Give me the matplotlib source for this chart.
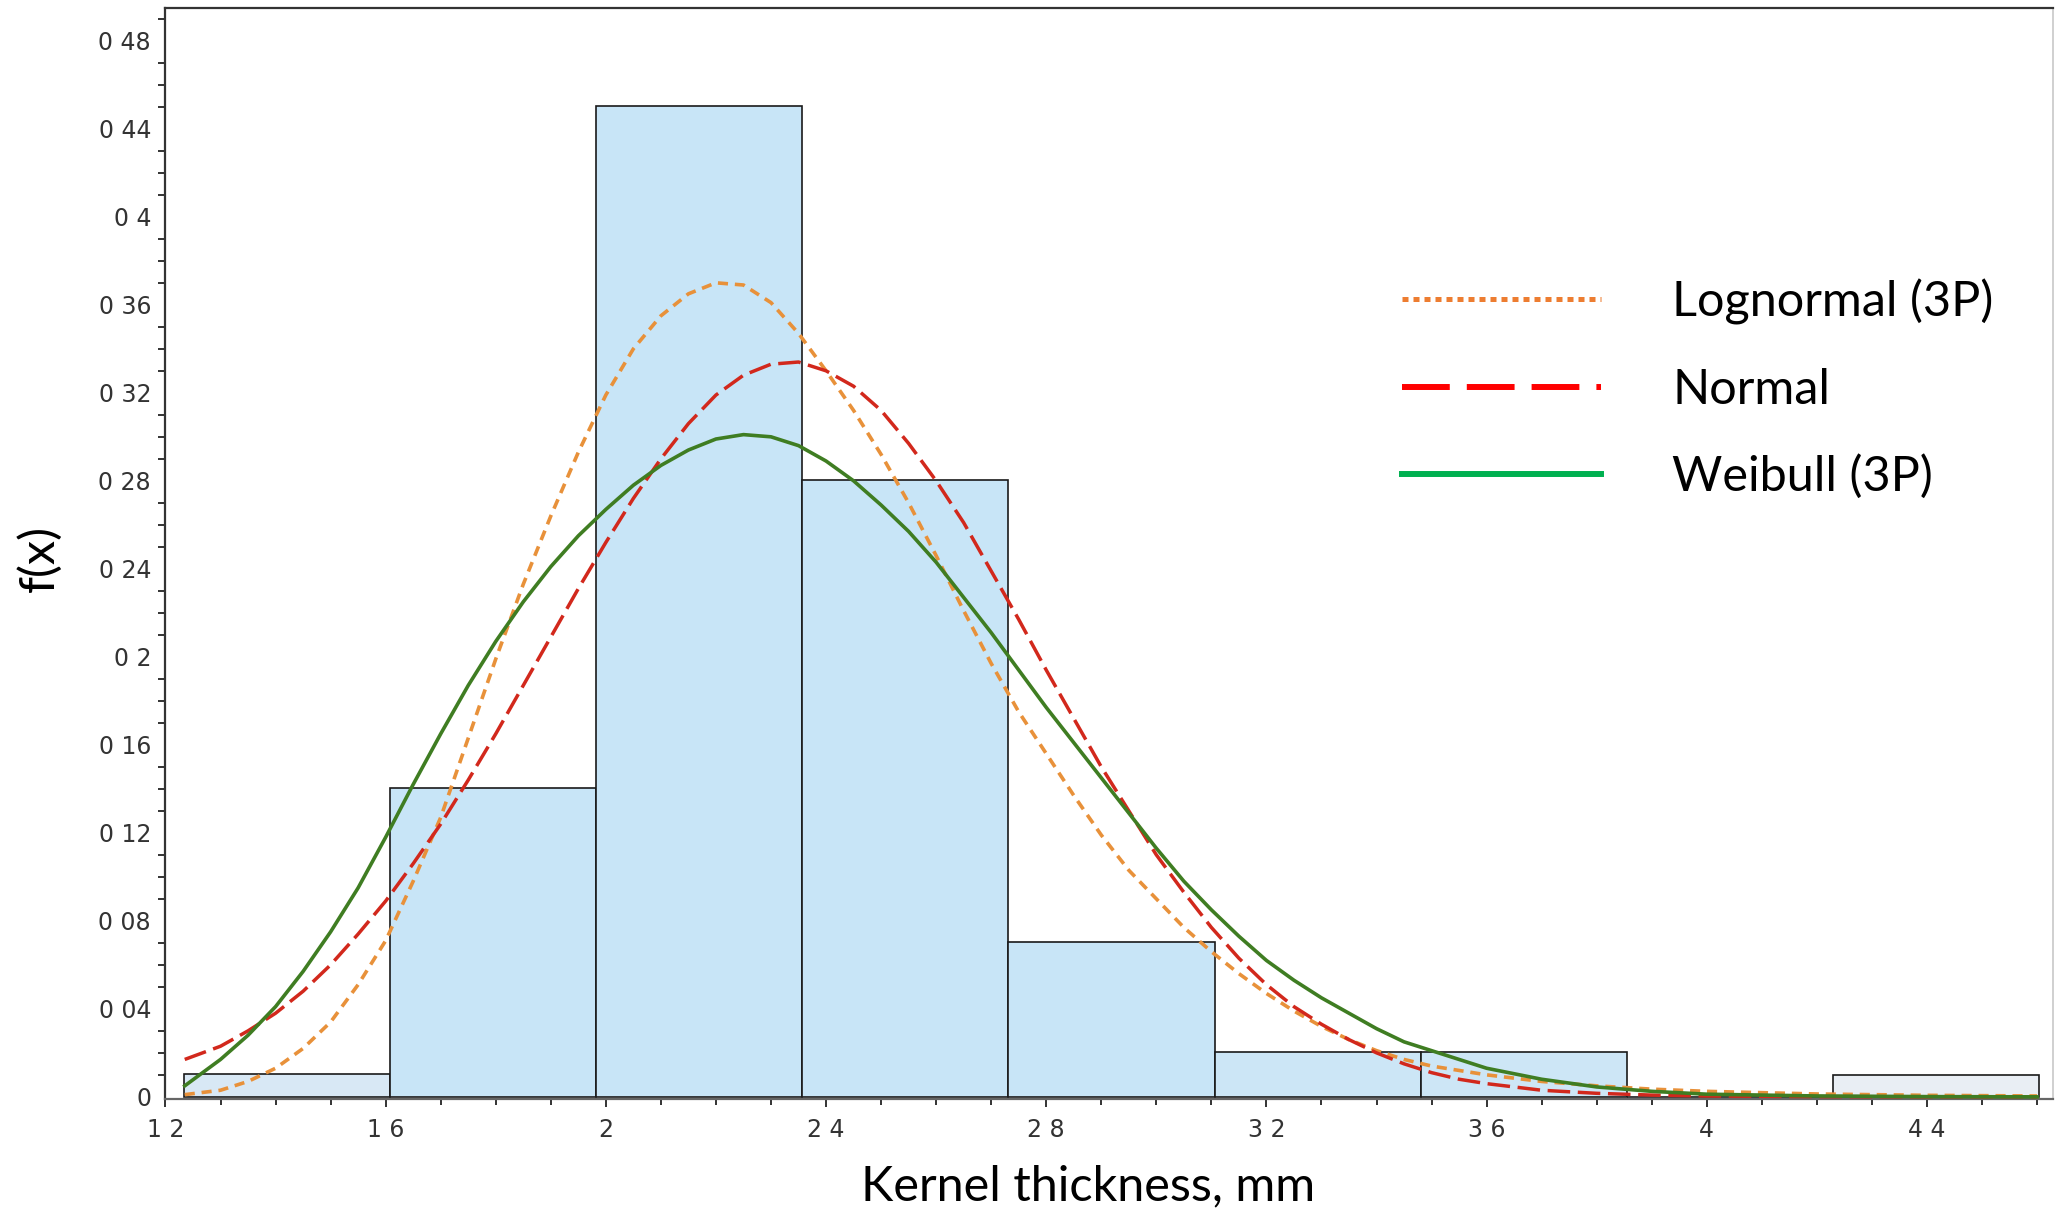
import matplotlib
matplotlib.use("Agg")
import matplotlib.pyplot as plt
from matplotlib.lines import Line2D
from matplotlib.ticker import MultipleLocator, FixedLocator

# histogram of relative frequencies (bin edges in mm)
bin_edges = [1.233, 1.608, 1.982, 2.357, 2.731, 3.106, 3.480, 3.855, 4.229, 4.604]
bin_freq = [0.0105, 0.1405, 0.4505, 0.2802, 0.0706, 0.0203, 0.0203, 0.0, 0.0101]
bin_colors = ["#d8e8f5", "#c8e5f7", "#c8e5f7", "#c8e5f7", "#c8e5f7",
              "#cce6f6", "#cde6f6", "#e9eef4", "#e9eef4"]

# fitted curves
thickness_mm = [1.235, 1.30, 1.35, 1.40, 1.45, 1.50, 1.55, 1.60, 1.65, 1.70,
                1.75, 1.80, 1.85, 1.90, 1.95, 2.00, 2.05, 2.10, 2.15, 2.20,
                2.25, 2.30, 2.35, 2.40, 2.45, 2.50, 2.55, 2.60, 2.65, 2.70,
                2.75, 2.80, 2.85, 2.90, 2.95, 3.00, 3.05, 3.10, 3.15, 3.20,
                3.25, 3.30, 3.35, 3.40, 3.45, 3.50, 3.55, 3.60, 3.70, 3.80,
                3.90, 4.00, 4.20, 4.40, 4.60]
lognormal_3p = [0.001, 0.003, 0.007, 0.013, 0.022, 0.034, 0.051, 0.071, 0.098, 0.127,
                0.163, 0.199, 0.233, 0.264, 0.293, 0.319, 0.340, 0.355, 0.365, 0.370,
                0.369, 0.361, 0.347, 0.330, 0.312, 0.292, 0.270, 0.246, 0.221, 0.197,
                0.175, 0.156, 0.137, 0.119, 0.103, 0.090, 0.077, 0.066, 0.056, 0.047,
                0.039, 0.032, 0.026, 0.021, 0.017, 0.014, 0.012, 0.010, 0.007, 0.005,
                0.0035, 0.0025, 0.0013, 0.0007, 0.0004]
normal = [0.017, 0.023, 0.030, 0.038, 0.048, 0.060, 0.074, 0.089, 0.106, 0.124,
          0.144, 0.165, 0.187, 0.209, 0.231, 0.252, 0.272, 0.290, 0.306, 0.319,
          0.328, 0.333, 0.334, 0.330, 0.323, 0.312, 0.297, 0.280, 0.261, 0.239,
          0.217, 0.194, 0.172, 0.150, 0.130, 0.110, 0.093, 0.077, 0.063, 0.051,
          0.041, 0.033, 0.026, 0.020, 0.015, 0.011, 0.008, 0.006, 0.003, 0.0016,
          0.0008, 0.0004, 0.0001, 0.0, 0.0]
weibull_3p = [0.005, 0.017, 0.028, 0.041, 0.057, 0.075, 0.095, 0.118, 0.142, 0.165,
              0.187, 0.207, 0.225, 0.241, 0.255, 0.267, 0.278, 0.287, 0.294, 0.299,
              0.301, 0.300, 0.296, 0.289, 0.280, 0.269, 0.257, 0.243, 0.227, 0.211,
              0.194, 0.177, 0.161, 0.145, 0.129, 0.113, 0.098, 0.085, 0.073, 0.062,
              0.053, 0.045, 0.038, 0.031, 0.025, 0.021, 0.017, 0.013, 0.008, 0.0045,
              0.0025, 0.0012, 0.0004, 0.0001, 0.0]

y_ticks = [0.0, 0.04, 0.08, 0.12, 0.16, 0.2, 0.24, 0.28, 0.32, 0.36, 0.4, 0.44, 0.48]
y_labels = ["0", "0 04", "0 08", "0 12", "0 16", "0 2", "0 24", "0 28", "0 32",
            "0 36", "0 4", "0 44", "0 48"]
x_ticks = [1.2, 1.6, 2.0, 2.4, 2.8, 3.2, 3.6, 4.0, 4.4]
x_labels = ["1 2", "1 6", "2", "2 4", "2 8", "3 2", "3 6", "4", "4 4"]

TICK_FONT = ["Liberation Sans Narrow", "DejaVu Sans"]
TEXT_FONT = ["Lato", "DejaVu Sans"]

fig = plt.figure(figsize=(20.59, 12.12), dpi=100)
ax = fig.add_axes([0.0801, 0.0932, 0.917, 0.900])

# --- histogram ---
lefts = bin_edges[:-1]
widths = [b - a for a, b in zip(bin_edges[:-1], bin_edges[1:])]
ax.bar(lefts, bin_freq, width=widths, align="edge", color=bin_colors,
       edgecolor="#1a1a1a", linewidth=1.2, zorder=1)

# --- fitted curves ---
ax.plot(thickness_mm, lognormal_3p, color="#e8913a", lw=2.6,
        dashes=(2.8, 1.9), zorder=3)
ax.plot(thickness_mm, normal, color="#d2281c", lw=2.5,
        dashes=(6.5, 2.2), zorder=3)
ax.plot(thickness_mm, weibull_3p, color="#3f7d22", lw=2.6, zorder=4)

ax.set_xlim(1.199, 4.629)
ax.set_ylim(-0.001, 0.4948)

# ticks
ax.yaxis.set_major_locator(FixedLocator(y_ticks))
ax.set_yticklabels(y_labels)
ax.yaxis.set_minor_locator(MultipleLocator(0.01))
ax.xaxis.set_major_locator(FixedLocator(x_ticks))
ax.set_xticklabels(x_labels)
ax.xaxis.set_minor_locator(MultipleLocator(0.1))

ax.tick_params(axis="y", which="major", length=0, pad=10, labelsize=17,
               labelcolor="#333333")
ax.tick_params(axis="y", which="minor", length=5, width=1.4, color="#333333",
               direction="out")
ax.tick_params(axis="x", which="major", length=6, width=1.4, pad=8,
               labelsize=17, labelcolor="#333333", color="#333333", direction="out")
ax.tick_params(axis="x", which="minor", length=4.5, width=1.4, color="#333333",
               direction="out")
for lab in ax.get_xticklabels() + ax.get_yticklabels():
    lab.set_family(TICK_FONT)

for side in ["left", "top"]:
    ax.spines[side].set_color("#333333")
    ax.spines[side].set_linewidth(1.6)
ax.spines["bottom"].set_color("#666666")
ax.spines["bottom"].set_linewidth(1.6)
ax.spines["right"].set_color("#c8c8c8")
ax.spines["right"].set_linewidth(1.2)

# labels
ax.set_xlabel("Kernel thickness, mm", fontsize=35, family=TEXT_FONT)
ax.xaxis.set_label_coords(0.489, -0.0797)
ax.xaxis.label.set_va("center")
ax.set_ylabel("f(x)", fontsize=35, family=TEXT_FONT)
ax.yaxis.set_label_coords(-0.0667, 0.496)
ax.yaxis.label.set_va("center")

# legend
legend_handles = [
    Line2D([], [], color="#ed7d31", lw=3.6, dashes=(1.2, 1.0),
           dash_capstyle="butt", label="Lognormal (3P)"),
    Line2D([], [], color="#ff0000", lw=4.3, dashes=(8.0, 2.85),
           dash_capstyle="butt", label="Normal"),
    Line2D([], [], color="#00b050", lw=4.3, label="Weibull (3P)"),
]
leg = ax.legend(handles=legend_handles, loc="upper left",
                bbox_to_anchor=(0.681, 0.7700), bbox_transform=fig.transFigure,
                frameon=False, handlelength=4.1, handletextpad=1.46,
                labelspacing=0.88, borderpad=0, borderaxespad=0,
                prop={"family": TEXT_FONT, "size": 35})

fig.savefig("out.png", dpi=100, facecolor="white")
